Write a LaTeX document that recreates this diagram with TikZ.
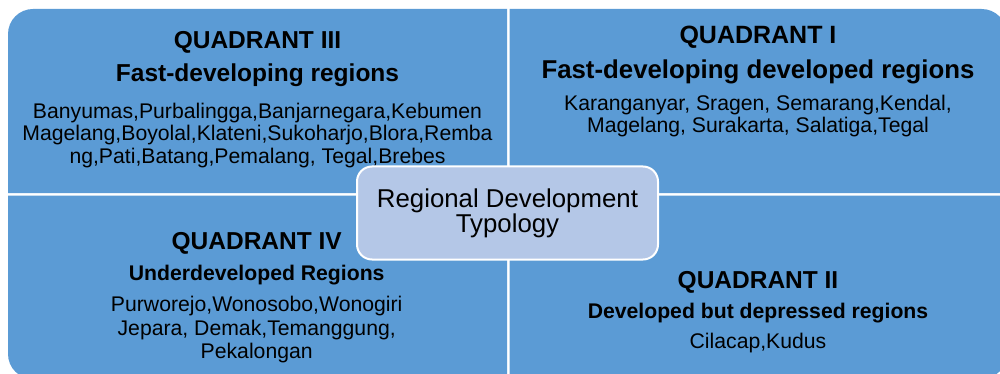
\documentclass[tikz,border=0pt]{standalone}
\usepackage{fontspec}
\setmainfont{Liberation Sans}
\definecolor{quadblue}{HTML}{5B9BD5}
\definecolor{centreblue}{HTML}{B4C7E7}
\begin{document}
\begin{tikzpicture}[x=1pt,y=-1pt]
	\tikzstyle{Quad} = [fill=quadblue]
	\tikzstyle{Title} = [anchor=base, inner sep=0pt, font=\bfseries\fontsize{24.5}{28}\selectfont]
	\tikzstyle{Sub} = [anchor=base, inner sep=0pt, font=\bfseries\fontsize{21.2}{24}\selectfont]
	\tikzstyle{Names} = [anchor=north, inner sep=0pt, align=center, font=\fontsize{21.2}{22.5}\selectfont]
	\tikzstyle{Centre} = [draw=white, line width=2pt, fill=centreblue, rounded corners=15pt, minimum width=301pt, minimum height=93pt, align=center, font=\fontsize{25.8}{25}\selectfont]
	\useasboundingbox (0,0) rectangle (1000,374);
	\clip (0,0) rectangle (1000,374);
	% the four quadrants, each with its outer corner rounded
	\fill [Quad] (507,193) -- (8,193) -- (8,34) arc[start angle=180, end angle=270, radius=25] -- (507,9) -- cycle;
	\fill [Quad] (509.5,193) -- (509.5,9) -- (981.7,9) arc[start angle=270, end angle=360, radius=25] -- (1006.7,193) -- cycle;
	\fill [Quad] (507,195.5) -- (8,195.5) -- (8,354) arc[start angle=180, end angle=90, radius=25] -- (507,379) -- cycle;
	\fill [Quad] (509.5,195.5) -- (1006.7,195.5) -- (1006.7,354) arc[start angle=0, end angle=90, radius=25] -- (509.5,379) -- cycle;
	% quadrant III
	\node (T3) at (257.5,48.3) [Title] {QUADRANT III};
	\node (S3) at (257.5,81.7) [Title] {Fast-developing regions};
	\node (N3) at (257.5,102.8) [Names] {Banyumas,Purbalingga,Banjarnegara,Kebumen\\Magelang,Boyolal,Klateni,Sukoharjo,Blora,Remba\\ng,Pati,Batang,Pemalang, Tegal,Brebes};
	% quadrant I
	\node (T1) at (758,44) [Title, font=\bfseries\fontsize{25}{28}\selectfont] {QUADRANT I};
	\node (S1) at (758,79) [Title, font=\bfseries\fontsize{25.8}{28}\selectfont] {Fast-developing developed regions};
	\node (N1) at (758,95.2) [Names, font=\fontsize{21.2}{22}\selectfont] {Karanganyar, Sragen, Semarang,Kendal,\\Magelang, Surakarta, Salatiga,Tegal};
	% quadrant IV
	\node (T4) at (256.7,249.3) [Title] {QUADRANT IV};
	\node (S4) at (256.7,280) [Sub] {Underdeveloped Regions};
	\node (N4) at (256.7,296.2) [Names, font=\fontsize{21.2}{23.3}\selectfont] {Purworejo,Wonosobo,Wonogiri\\Jepara, Demak,Temanggung,\\Pekalongan};
	% quadrant II
	\node (T2) at (758,288.3) [Title] {QUADRANT II};
	\node (S2) at (758,318.3) [Sub] {Developed but depressed regions};
	\node (N2) at (758,348.3) [Names, anchor=base] {Cilacap,Kudus};
	% centre
	\node (C) at (507.5,213) [Centre] {Regional Development\\Typology};
\end{tikzpicture}
\end{document}
